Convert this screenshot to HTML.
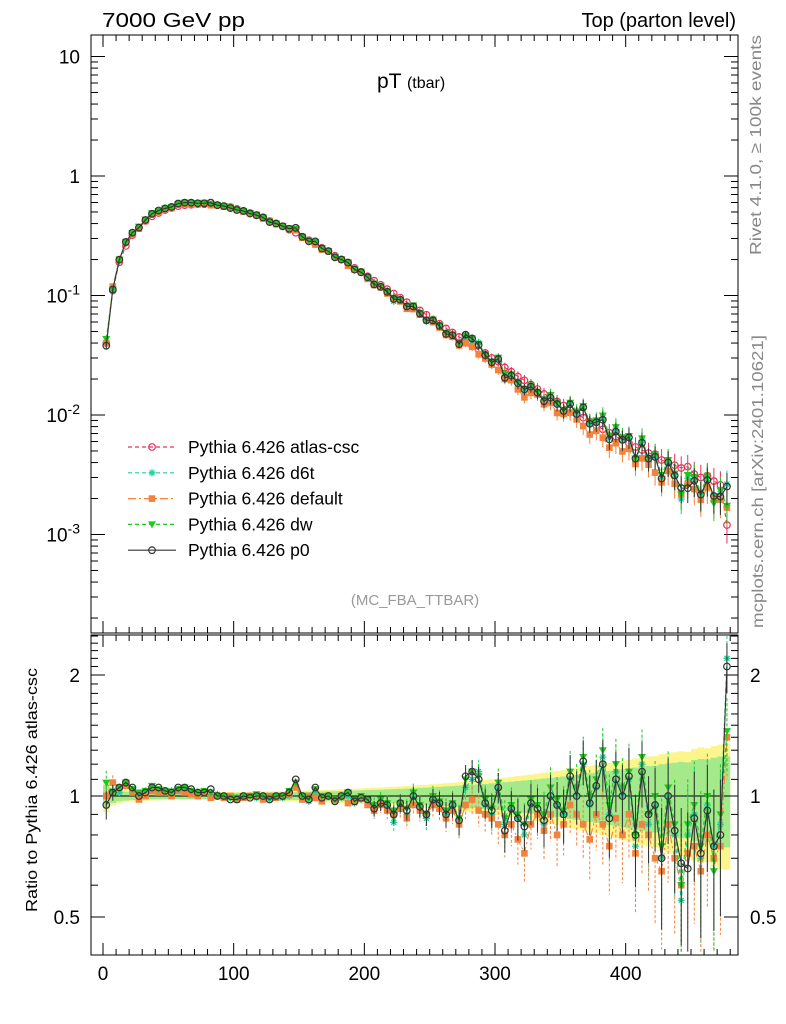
<!DOCTYPE html>
<html><head><meta charset="utf-8"><style>
body{margin:0;background:#fff}
svg{display:block;font-family:"Liberation Sans",sans-serif}
</style></head><body>
<svg id="c" width="786" height="1024" viewBox="0 0 786 1024"></svg>
<script>
const binCenters=[2.5,7.5,12.5,17.5,22.5,27.5,32.5,37.5,42.5,47.5,52.5,57.5,62.5,67.5,72.5,77.5,82.5,87.5,92.5,97.5,102.5,107.5,112.5,117.5,122.5,127.5,132.5,137.5,142.5,147.5,152.5,157.5,162.5,167.5,172.5,177.5,182.5,187.5,192.5,197.5,202.5,207.5,212.5,217.5,222.5,227.5,232.5,237.5,242.5,247.5,252.5,257.5,262.5,267.5,272.5,277.5,282.5,287.5,292.5,297.5,302.5,307.5,312.5,317.5,322.5,327.5,332.5,337.5,342.5,347.5,352.5,357.5,362.5,367.5,372.5,377.5,382.5,387.5,392.5,397.5,402.5,407.5,412.5,417.5,422.5,427.5,432.5,437.5,442.5,447.5,452.5,457.5,462.5,467.5,472.5,477.5];
const atlasValues=[0.04,0.11,0.19,0.26,0.32,0.37,0.42,0.46,0.49,0.52,0.54,0.56,0.57,0.575,0.58,0.58,0.575,0.57,0.56,0.55,0.53,0.51,0.49,0.47,0.45,0.42,0.40,0.38,0.355,0.335,0.31,0.29,0.27,0.25,0.235,0.215,0.2,0.185,0.17,0.158,0.145,0.133,0.123,0.113,0.104,0.096,0.088,0.081,0.075,0.069,0.063,0.058,0.053,0.049,0.045,0.042,0.038,0.035,0.033,0.030,0.028,0.025,0.023,0.021,0.0195,0.018,0.0165,0.015,0.014,0.013,0.012,0.011,0.0102,0.0095,0.0088,0.0082,0.0076,0.0071,0.0066,0.0062,0.0058,0.0054,0.0051,0.0048,0.0047,0.0042,0.0040,0.0038,0.0036,0.0037,0.0032,0.0030,0.0031,0.0028,0.0026,0.0012];
const ratioD6t=[1.0,1.03,1.02,1.06,1.04,1.0,1.03,1.04,1.03,1.02,1.03,1.04,1.03,1.03,1.01,1.02,1.0,1.01,1.0,0.99,0.99,1.0,1.0,0.99,1.0,0.98,1.0,0.99,1.0,1.06,0.99,0.97,1.02,0.98,1.0,0.97,0.99,1.0,0.96,0.98,0.97,0.92,0.97,0.95,0.86,0.95,0.9,1.0,0.93,0.88,0.98,0.96,0.9,0.95,0.86,1.05,1.1,1.15,0.95,0.9,1.05,0.85,0.92,0.88,0.8,0.95,0.9,0.85,1.0,0.95,0.9,1.1,1.0,1.2,0.95,1.05,1.25,0.9,1.15,1.0,1.1,0.75,1.2,0.85,0.95,0.7,1.0,0.8,0.55,0.8,0.9,0.7,0.95,0.75,0.85,2.2];
const ratioDefault=[1.0,1.08,1.05,1.06,1.02,0.98,1.0,1.03,1.02,1.02,1.0,1.03,1.02,1.01,1.0,1.02,0.99,1.0,0.99,1.0,0.98,0.99,1.0,1.0,0.98,1.0,0.99,1.0,1.01,1.05,0.98,1.0,0.99,0.97,1.0,0.98,1.0,0.96,0.97,0.99,0.95,0.92,0.95,0.92,0.9,0.93,0.88,0.95,0.92,0.9,0.95,0.93,0.88,0.92,0.85,0.95,0.98,0.92,0.9,0.88,0.85,0.8,0.85,0.78,0.72,0.85,0.9,0.82,0.9,0.8,0.85,0.95,0.9,0.85,0.78,0.9,0.85,0.75,0.88,0.8,0.9,0.72,0.85,0.8,0.7,0.65,0.85,0.7,0.6,0.72,0.75,0.65,0.8,0.7,0.75,1.4];
const ratioDw=[1.08,1.02,1.05,1.08,1.04,1.02,1.03,1.06,1.04,1.03,1.02,1.04,1.05,1.03,1.02,1.03,1.02,1.0,1.0,0.99,0.99,1.0,1.0,1.01,1.0,0.99,1.0,1.0,1.03,1.08,1.0,0.99,1.04,1.0,1.0,0.98,1.0,1.02,0.98,1.0,0.98,0.95,0.98,0.96,0.92,0.96,0.93,1.02,0.95,0.9,1.0,0.97,0.92,0.96,0.88,1.1,1.15,1.12,0.98,0.93,1.08,0.88,0.95,0.9,0.85,0.98,0.95,0.9,1.05,0.98,0.92,1.15,1.05,1.25,1.0,1.1,1.3,0.95,1.2,1.05,1.15,0.8,1.25,0.9,1.0,0.75,1.05,0.85,0.6,0.85,0.95,0.75,1.0,0.65,0.9,1.45];
const ratioP0=[0.95,1.02,1.05,1.08,1.05,1.0,1.02,1.05,1.05,1.03,1.02,1.05,1.05,1.04,1.02,1.02,1.04,1.0,1.0,0.98,0.98,1.0,0.99,1.0,1.0,0.98,1.0,1.0,1.02,1.1,1.0,0.98,1.05,0.99,1.0,0.97,1.0,1.02,0.97,0.99,0.98,0.93,0.96,0.95,0.9,0.96,0.92,1.0,0.94,0.9,0.98,0.96,0.9,0.95,0.87,1.12,1.15,1.1,0.96,0.92,1.05,0.82,0.93,0.88,0.84,0.96,0.93,0.87,1.0,0.95,0.9,1.12,1.0,1.22,0.96,1.06,1.2,0.88,1.1,1.0,1.12,0.8,1.15,0.9,0.95,0.7,1.0,0.82,0.68,0.66,0.88,0.72,0.92,0.75,0.8,2.1];
const xTicks=[0,100,200,300,400];
const yMainTicks=[10,1,0.1,0.01,0.001];
const yMainLabels=["10","1","10^-1","10^-2","10^-3"];
const yRatioTicks=[2,1,0.5];

const NS="http://www.w3.org/2000/svg";
const svg=document.getElementById('c');
function mk(tag,attrs,parent){const e=document.createElementNS(NS,tag);for(const k in attrs)e.setAttribute(k,attrs[k]);(parent||svg).appendChild(e);return e;}
const L=91,R=738,T1=35,B1=633,T2=635,B2=955;
const X=v=>103+v*1.3067;
const Ym=v=>176-Math.log10(v)*119.5;
const Yr=v=>796-Math.log2(v)*121;
const colors={atlas:"#e8325a",d6t:"#1fcf9a",def:"#f5823c",dw:"#1ec81e",p0:"#333"};

const relErr=atlasValues.map(v=>Math.min(0.3,0.02*Math.sqrt(0.58/v)));
let yb="",gb="";
binCenters.forEach((c,i)=>{const x0=X(c-2.5),x1=X(c+2.5);
 const ey=relErr[i]*1.15;
 yb+=`M${x0},${Yr(1+ey)}H${x1}V${Yr(Math.max(0.41,1-ey))}H${x0}Z`;
 const e=relErr[i]*0.85;
 gb+=`M${x0},${Yr(Math.min(2.5,1+e))}H${x1}V${Yr(Math.max(0.41,1-e))}H${x0}Z`;});
const yband=mk('path',{d:yb,fill:"#fbf58c"});


const gband=mk('path',{d:gb,fill:"#8ee68a",opacity:0.8});



const f1=mk('rect',{x:L,y:T1,width:R-L,height:B1-T1,fill:"none",stroke:"#000","stroke-width":1});

const f2=mk('rect',{x:L,y:T2,width:R-L,height:B2-T2,fill:"none",stroke:"#000","stroke-width":1});

mk('line',{x1:L,x2:R,y1:Yr(1),y2:Yr(1),stroke:"#000"});

for(let v=0;v<=480;v+=10){const big=v%100===0;const x=X(v);
 mk('line',{x1:x,x2:x,y1:B1,y2:B1-(big?12:6),stroke:"#000"});
 mk('line',{x1:x,x2:x,y1:T1,y2:T1+(big?12:6),stroke:"#000"});
 mk('line',{x1:x,x2:x,y1:B2,y2:B2-(big?12:6),stroke:"#000"});
 mk('line',{x1:x,x2:x,y1:T2,y2:T2+(big?12:6),stroke:"#000"});}
xTicks.forEach(v=>{const t=mk('text',{x:X(v),y:980,"font-size":19,"text-anchor":"middle"});t.textContent=v;
 });

for(let d=-4;d<=1;d++)for(let m=1;m<10;m++){const v=m*Math.pow(10,d);const y=Ym(v);if(y<T1||y>B1)continue;
 const len=m===1?14:7;mk('line',{x1:L,x2:L+len,y1:y,y2:y,stroke:"#000"});mk('line',{x1:R,x2:R-len,y1:y,y2:y,stroke:"#000"});}
yMainTicks.forEach((v,i)=>{const lab=yMainLabels[i];const t=mk('text',{x:80,y:Ym(v)+7,"font-size":19,"text-anchor":"end"});
 if(lab.includes("^")){const p=lab.split("^");t.textContent=p[0];const s=mk('tspan',{dy:-8,"font-size":14},t);s.textContent=p[1];}else t.textContent=lab;
 });

[0.4,0.5,0.6,0.7,0.8,0.9,1,1.1,1.2,1.3,1.4,1.5,1.6,1.7,1.8,1.9,2,2.1,2.2,2.3,2.4,2.5].forEach(v=>{const y=Yr(v);if(y<T2||y>B2)return;
 const big=yRatioTicks.includes(v);const len=big?14:7;mk('line',{x1:L,x2:L+len,y1:y,y2:y,stroke:"#000"});mk('line',{x1:R,x2:R-len,y1:y,y2:y,stroke:"#000"});});
yRatioTicks.forEach(v=>{const t=mk('text',{x:80,y:Yr(v)+7,"font-size":19,"text-anchor":"end"});t.textContent=v;
 
 const t2=mk('text',{x:750,y:Yr(v)+7,"font-size":19});t2.textContent=v;
 });

function marker(kind,x,y,g){const c=colors[kind];
 if(kind==='atlas'||kind==='p0')mk('circle',{cx:x,cy:y,r:3.3,fill:"none",stroke:c,"stroke-width":1.2},g);
 else if(kind==='def')mk('rect',{x:x-3.3,y:y-3.3,width:6.6,height:6.6,fill:c},g);
 else if(kind==='dw')mk('path',{d:`M${x-4},${y-3}L${x+4},${y-3}L${x},${y+4}Z`,fill:c},g);
 else{for(const a of [0,45,90,135]){const r=a*Math.PI/180;mk('line',{x1:x-3.5*Math.cos(r),y1:y-3.5*Math.sin(r),x2:x+3.5*Math.cos(r),y2:y+3.5*Math.sin(r),stroke:c,"stroke-width":1.3},g);}}}
const series=[["atlas",binCenters.map(()=>1),"4,3"],["d6t",ratioD6t,"4,3"],["def",ratioDefault,"8,3,2,3"],["dw",ratioDw,"4,3"],["p0",ratioP0,""]];
series.forEach(([k,r,dash])=>{
 const gm=mk('g',{});
 const gr=mk('g',{});
 let pm="",pr="";
 binCenters.forEach((c,i)=>{const v=atlasValues[i]*r[i];const x=X(c);const ym=Ym(v);const yr=Yr(Math.min(2.45,Math.max(0.41,r[i])));
  pm+=(i?"L":"M")+x+","+ym;pr+=(i?"L":"M")+x+","+yr;
  const e=relErr[i];
  if(e>0.04){mk('line',{x1:x,x2:x,y1:Ym(v*(1+e)),y2:Ym(v*(1-e)),stroke:colors[k]},gm);
   if(k!=='atlas')mk('line',{x1:x,x2:x,y1:Yr(Math.min(2.5,r[i]+e)),y2:Yr(Math.max(0.41,r[i]-e)),stroke:colors[k],"stroke-dasharray":k==='p0'?"":"3,2"},gr);}
 });
 mk('path',{d:pm,fill:"none",stroke:colors[k],"stroke-width":1.1,"stroke-dasharray":dash},gm);
 if(k!=='atlas')mk('path',{d:pr,fill:"none",stroke:colors[k],"stroke-width":1.1,"stroke-dasharray":dash},gr);
 binCenters.forEach((c,i)=>{const x=X(c);marker(k,x,Ym(atlasValues[i]*r[i]),gm);if(k!=='atlas')marker(k,x,Yr(Math.min(2.45,Math.max(0.41,r[i]))),gr);});
});

const legend=[["atlas","Pythia 6.426 atlas-csc","4,3"],["d6t","Pythia 6.426 d6t","4,3"],["def","Pythia 6.426 default","8,3,2,3"],["dw","Pythia 6.426 dw","4,3"],["p0","Pythia 6.426 p0",""]];
legend.forEach(([k,lab,dash],i)=>{const y=447+i*25.8;const g=mk('g',{});
 
 mk('line',{x1:128,x2:176,y1:y,y2:y,stroke:colors[k],"stroke-width":1.2,"stroke-dasharray":dash},g);
 marker(k,152,y,g);
 const t=mk('text',{x:188,y:y+6,"font-size":17.5},g);t.textContent=lab;});

function txt(x,y,s,size,attrs,name,fill){const t=mk('text',Object.assign({x:x,y:y,"font-size":size,fill:fill||"#000"},attrs||{}));t.textContent=s;
 return t;}
txt(102,27,"7000 GeV pp",20,{textLength:143,lengthAdjust:"spacingAndGlyphs"},"energy-label");
txt(736,27,"Top (parton level)",20,{"text-anchor":"end"},"process-label");
const title=txt(377,88,"pT ",21,{},"plot-title");const ts=mk('tspan',{"font-size":16},title);ts.textContent="(tbar)";
txt(415,605,"(MC_FBA_TTBAR)",15,{"text-anchor":"middle"},"analysis-label","#999");
txt(0,0,"Rivet 4.1.0, \u2265 100k events",16,{transform:"translate(761,255) rotate(-90)",textLength:220,lengthAdjust:"spacingAndGlyphs"},"rivet-label","#888");
txt(0,0,"mcplots.cern.ch [arXiv:2401.10621]",16,{transform:"translate(763,628) rotate(-90)",textLength:293,lengthAdjust:"spacingAndGlyphs"},"mcplots-label","#888");
txt(0,0,"Ratio to Pythia 6.426 atlas-csc",15.5,{transform:"translate(37,912) rotate(-90)",textLength:244,lengthAdjust:"spacingAndGlyphs"},"ratio-y-axis-title");
</script>
</body></html>
